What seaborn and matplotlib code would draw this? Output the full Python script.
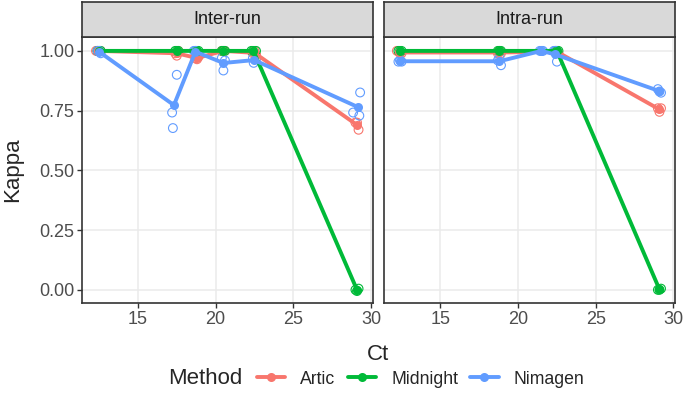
import numpy as np
import pandas as pd
import matplotlib
matplotlib.use("Agg")
import matplotlib.pyplot as plt
from matplotlib.lines import Line2D
import seaborn as sns

inter_artic_ct = [12.3, 12.4, 12.6, 17.4, 17.5, 17.6, 18.7, 18.8, 18.9, 20.4, 20.5, 20.6, 22.4, 22.5, 22.6, 29.0, 29.1, 29.2]
inter_artic_kappa = [1.0, 1.0, 1.0, 0.99, 0.98, 1.0, 0.97, 0.965, 0.975, 1.0, 1.0, 1.0, 0.99, 1.0, 0.985, 0.70, 0.70, 0.67]
inter_midnight_ct = [12.4, 12.5, 12.6, 17.4, 17.5, 17.6, 18.7, 18.8, 18.9, 20.4, 20.5, 20.6, 22.3, 22.4, 22.6, 29.0, 29.1, 29.2]
inter_midnight_kappa = [1.0, 1.0, 1.0, 1.0, 1.0, 1.0, 1.0, 1.0, 1.0, 1.0, 1.0, 1.0, 1.0, 1.0, 1.0, 0.0, -0.005, 0.005]
inter_nimagen_ct = [12.4, 12.5, 12.6, 17.2, 17.25, 17.5, 18.6, 18.7, 18.8, 20.4, 20.5, 20.6, 22.4, 22.45, 22.6, 28.85, 29.25, 29.3]
inter_nimagen_kappa = [1.0, 1.0, 0.99, 0.742, 0.677, 0.90, 1.0, 1.0, 0.99, 0.97, 0.918, 0.96, 0.97, 0.95, 0.965, 0.742, 0.729, 0.826]

intra_artic_ct = [12.2, 12.4, 12.5, 18.7, 18.8, 18.9, 22.4, 22.5, 22.6, 29.0, 29.1, 29.2]
intra_artic_kappa = [1.0, 0.99, 0.99, 0.99, 1.0, 0.99, 1.0, 1.0, 0.99, 0.76, 0.745, 0.76]
intra_midnight_ct = [12.3, 12.4, 12.5, 18.7, 18.8, 18.9, 22.4, 22.5, 22.6, 29.0, 29.1, 29.2]
intra_midnight_kappa = [1.0, 1.0, 1.0, 1.0, 1.0, 1.0, 1.0, 1.0, 1.0, 0.0, 0.0, 0.005]
intra_nimagen_ct = [12.3, 12.4, 12.5, 18.7, 18.8, 18.9, 21.4, 21.5, 21.6, 22.3, 22.4, 22.5, 29.0, 29.1, 29.2]
intra_nimagen_kappa = [0.955, 0.96, 0.955, 0.96, 0.97, 0.94, 1.0, 1.0, 1.0, 1.0, 1.0, 0.955, 0.84, 0.83, 0.825]

panels = ["Inter-run", "Intra-run"]
methods = ["Artic", "Midnight", "Nimagen"]
colors = ["#F8766D", "#00BA38", "#619CFF"]

series = {
    ("Inter-run", "Artic"): (inter_artic_ct, inter_artic_kappa),
    ("Inter-run", "Midnight"): (inter_midnight_ct, inter_midnight_kappa),
    ("Inter-run", "Nimagen"): (inter_nimagen_ct, inter_nimagen_kappa),
    ("Intra-run", "Artic"): (intra_artic_ct, intra_artic_kappa),
    ("Intra-run", "Midnight"): (intra_midnight_ct, intra_midnight_kappa),
    ("Intra-run", "Nimagen"): (intra_nimagen_ct, intra_nimagen_kappa),
}

rows = []
for (panel, method), (ct, kappa) in series.items():
    for i, (c, k) in enumerate(zip(ct, kappa)):
        rows.append({"Run": panel, "Method": method, "Sample": i // 3, "Ct": c, "Kappa": k})
df = pd.DataFrame(rows)
means = df.groupby(["Run", "Method", "Sample"], as_index=False)[["Ct", "Kappa"]].mean()

sns.set_style("white")
plt.rcParams["font.family"] = ["Liberation Sans", "DejaVu Sans"]
pal = dict(zip(methods, colors))

fig, axes = plt.subplots(1, 2, figsize=(6.85, 3.94), dpi=100, sharey=True)
fig.subplots_adjust(left=0.1197, right=0.9854, bottom=0.231, top=0.906, wspace=0.041)

for ax, panel in zip(axes, panels):
    for m in methods:
        sub = df[(df.Run == panel) & (df.Method == m)]
        sns.scatterplot(x=sub.Ct, y=sub.Kappa, ax=ax, s=40, facecolors="none",
                        edgecolor=pal[m], linewidth=0.8, zorder=2)
    sns.lineplot(data=means[means.Run == panel], x="Ct", y="Kappa", hue="Method",
                 hue_order=methods, palette=pal, marker="o", markersize=6.5,
                 markeredgewidth=0, linewidth=2.8, legend=False, ax=ax, zorder=3)
    ax.set_xlim(11.4, 30.1)
    ax.set_ylim(-0.055, 1.058)
    ax.set_xticks([15, 20, 25, 30])
    ax.set_yticks([0, 0.25, 0.5, 0.75, 1.0])
    ax.set_yticklabels(["0.00", "0.25", "0.50", "0.75", "1.00"])
    ax.grid(True, color="#EBEBEB", linewidth=1.1)
    ax.set_axisbelow(True)
    for s in ax.spines.values():
        s.set_color("#333333")
        s.set_linewidth(1.2)
    ax.tick_params(axis="both", which="major", length=3.5, width=1.0, color="#333333",
                   labelsize=13, labelcolor="#4D4D4D", bottom=True, left=True, pad=2)
    ax.set_xlabel("")
    ax.set_ylabel("")

    # facet strip
    pos = ax.get_position()
    strip = fig.add_axes([pos.x0, pos.y1, pos.width, 35 / 394])
    strip.set_facecolor("#D9D9D9")
    strip.set_xticks([])
    strip.set_yticks([])
    for s in strip.spines.values():
        s.set_color("#333333")
        s.set_linewidth(1.2)
    strip.text(0.5, 0.5, panel, ha="center", va="center", fontsize=13, color="#1A1A1A")

axes[1].tick_params(labelleft=False, left=False)

fig.text(0.5 * (0.1197 + 0.9854), 1 - 354 / 394, "Ct", ha="center", va="center", fontsize=16)
fig.text(0.018, 1 - 170 / 394, "Kappa", ha="center", va="center", rotation=90, fontsize=16)

handles = [Line2D([], [], color=c, linewidth=2.8, marker="o", markersize=6.5, markeredgewidth=0)
           for c in colors]
fig.text(168 / 685, 1 - 379 / 394, "Method", ha="left", va="center", fontsize=16)
fig.legend(handles, methods, loc="center left", bbox_to_anchor=(257 / 685, 1 - 379 / 394),
           ncol=3, frameon=False, fontsize=12.7, handlelength=1.6, handletextpad=0.85,
           columnspacing=0.7, borderpad=0, borderaxespad=0)

fig.savefig("out.png", dpi=100)
